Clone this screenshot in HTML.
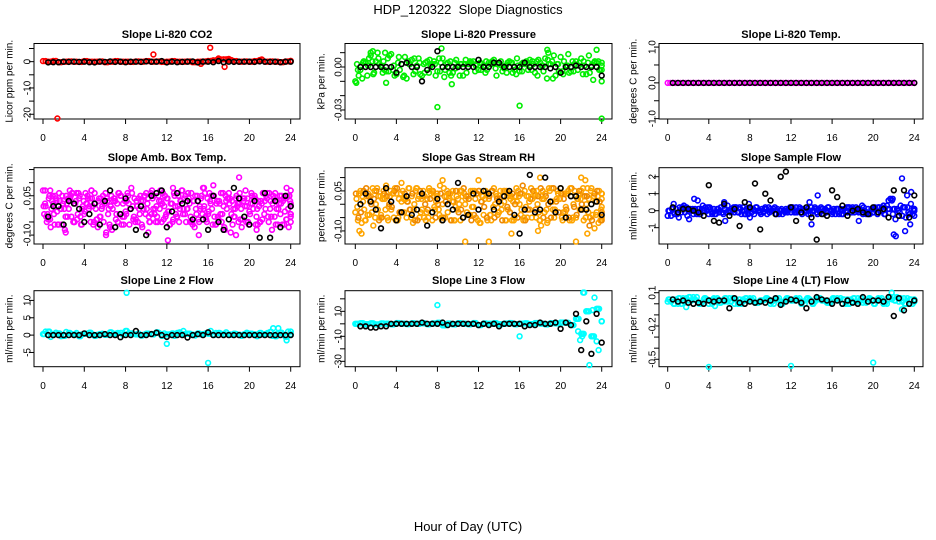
<!DOCTYPE html>
<html><head><meta charset="utf-8"><style>
html,body{margin:0;padding:0;background:#fff}
svg{display:block;font-family:"Liberation Sans",sans-serif}
</style></head><body>
<svg id="chart" width="936" height="540" viewBox="0 0 936 540" xmlns="http://www.w3.org/2000/svg">
<text x="468" y="14" font-size="13" text-anchor="middle" style="white-space:pre">HDP_120322  Slope Diagnostics</text>
<text x="468" y="531" font-size="13" text-anchor="middle">Hour of Day (UTC)</text>
</svg>
<script>
const hours = [0,0.5,1,1.5,2,2.5,3,3.5,4,4.5,5,5.5,6,6.5,7,7.5,8,8.5,9,9.5,10,10.5,11,11.5,12,12.5,13,13.5,14,14.5,15,15.5,16,16.5,17,17.5,18,18.5,19,19.5,20,20.5,21,21.5,22,22.5,23,23.5,24];
const blackHours = hours.slice(1);
const xTicks = [0,4,8,12,16,20,24];

const co2Main = [0.2,0,0.3,-0.2,0,0.1,0,-0.1,0.2,0,0,0.1,-0.2,0,0.2,0,0,-0.1,0.1,0,0.2,0,0.1,-0.1,0,0.2,0,0,0.1,-0.2,0,0.1,0.3,0.5,0.8,0.9,0.6,0.2,0,0.1,0,0.2,0.6,0,0.1,0,-0.2,0.1,0.3];
const co2OutH = [1.4,10.7,16.2,17.6,17.0,18.0,21.2,15.3];
const co2OutV = [-21.6,2.7,5.3,-2.0,1.2,1.0,0.8,-0.8];
const co2Black = [-0.3,-0.2,-0.2,0,-0.1,0,-0.1,0,-0.2,-0.3,0,-0.1,0.1,-0.1,0,-0.2,0,0,-0.1,0.1,0,0,0.2,-0.3,0,-0.2,-0.1,0,0.1,-0.3,0,0,-0.2,0.2,-0.2,0,-0.1,0,0,0,-0.1,0.1,0,-0.1,0,-0.2,0,0];

const presA = [-0.010,-0.002,0.003,0.008,0.004,0.001,-0.003,0.009,-0.005,0.002,-0.008,0.005,0.001,-0.006,0.004,0.002,-0.003,0.006,0.003,-0.004,0.001,-0.006,0.002,0.004,-0.002,0.001,0.003,0.005,0.002,-0.001,0.004,-0.002,-0.003,0.002,0.005,-0.004,0.003,0.006,0.002,-0.006,0.007,0.001,-0.003,0.004,0.006,-0.005,0.001,0.003,-0.002];
const presB = [0.002,-0.008,-0.006,0.004,0.010,-0.004,0.006,-0.002,0.003,-0.007,0.004,-0.005,0.006,0.002,-0.004,0.004,0.006,-0.007,-0.004,0.003,-0.006,0.002,0.004,-0.003,0.003,-0.004,0.002,-0.001,0.004,0.001,0.003,-0.005,0.002,0.004,-0.002,0.004,0.001,-0.008,0.004,0.002,-0.003,0.001,0.004,-0.002,-0.005,0.003,-0.009,0.004,0.001];
const presC = [-0.006,0.004,0.006,-0.004,0.002,-0.002,0.008,-0.006,-0.002,0.007,0.002,-0.003,-0.005,0.003,0.001,-0.006,0.003,0.002,-0.006,0.005,0.002,-0.004,0.003,0.002,0.002,-0.002,0.004,0.002,-0.003,0.003,-0.004,0.001,0.003,-0.002,0.002,0.005,-0.003,0.002,0.008,-0.003,0.004,-0.004,0.002,0.003,0.001,-0.004,0.004,-0.002,0.003];
const presOutH = [8.0,16.0,24.0,8.4,18.7,23.5,1.7,0.1,3.0,9.4,1.5,2.9,18.8];
const presOutV = [-0.028,-0.027,-0.036,0.013,0.012,0.012,0.011,-0.011,-0.011,-0.012,0.010,0.010,0.010];
const presBlack = [0,0,0,0,0,0,0,-0.004,0.002,0.003,0,0,-0.010,-0.002,0,0.011,0,0,0,0,0,0,0,0.005,0,0,0.003,0.003,0,0,0,0,0.003,0,0,0,0,-0.001,0,-0.004,0,0,0.001,0,0,0,0,-0.006];

const tempMain = [0,0,0,0,0,0,0,0,0,0,0,0,0,0,0,0,0,0,0,0,0,0,0,0,0,0,0,0,0,0,0,0,0,0,0,0,0,0,0,0,0,0,0,0,0,0,0,0,0];
const tempBlack = [0,0,0,0,0,0,0,0,0,0,0,0,0,0,0,0,0,0,0,0,0,0,0,0,0,0,0,0,0,0,0,0,0,0,0,0,0,0,0,0,0,0,0,0,0,0,0,0];

const ambA = [0.07,-0.04,0.02,-0.06,0.03,0.0,-0.05,0.04,-0.02,0.01,0.06,-0.03,0.02,-0.07,0.03,0.05,-0.01,0.0,-0.04,0.03,0.06,-0.02,0.01,-0.05,0.04,0.02,-0.03,0.07,0.0,-0.06,0.03,0.08,-0.02,0.05,-0.04,0.01,0.06,-0.03,0.02,0.04,-0.01,0.05,-0.05,0.03,0.0,0.06,-0.02,0.04,0.01];
const ambB = [-0.02,0.05,-0.06,0.03,-0.08,0.04,0.02,-0.03,0.06,-0.05,0.0,0.04,-0.09,0.05,-0.02,-0.06,0.03,0.06,0.01,-0.07,0.02,0.04,-0.05,0.06,-0.01,-0.04,0.05,0.0,0.04,0.03,-0.05,0.01,0.06,-0.03,0.02,-0.08,0.04,0.0,-0.04,0.07,0.02,-0.06,0.03,0.05,-0.03,0.0,0.05,-0.04,0.02];
const ambC = [0.01,-0.07,0.04,0.0,0.05,-0.03,0.06,-0.06,0.02,0.04,-0.04,0.01,0.03,0.0,-0.05,0.02,0.05,-0.04,0.04,0.0,-0.03,0.05,0.03,0.01,-0.06,0.05,0.0,-0.02,-0.05,0.05,0.0,-0.03,0.02,-0.06,0.06,0.03,-0.02,0.05,-0.07,0.01,0.05,0.0,-0.04,0.06,0.02,-0.06,0.03,0.0,-0.03];
const ambD = [-0.05,0.03,-0.01,0.05,-0.03,0.06,-0.02,0.01,0.04,-0.06,0.03,-0.05,0.0,0.04,0.06,-0.03,-0.06,0.04,-0.02,0.05,-0.05,0.0,0.07,-0.03,0.02,-0.02,0.03,-0.05,0.06,-0.02,0.05,-0.05,0.0,0.03,-0.02,0.04,-0.06,0.02,0.04,-0.05,0.0,0.03,0.06,-0.05,0.04,0.02,-0.06,0.05,-0.02];
const ambOutH = [0.2,0.7,2.6,6.1,12.1,15.1,16.5,19.0,18.7,20.7,2.2,4.7,10.2,12.6,23.6,15.6];
const ambOutV = [0.07,0.07,0.07,-0.10,-0.12,-0.10,0.09,0.12,-0.10,-0.08,-0.09,0.07,-0.09,0.08,0.08,0.08];
const ambBlack = [-0.03,0.01,0.01,-0.06,0.03,0.02,0.0,-0.05,-0.02,0.02,-0.06,0.03,0.07,-0.07,-0.02,0.04,0.0,-0.08,0.01,-0.10,0.05,0.06,0.07,-0.07,-0.01,0.06,0.02,0.03,-0.04,0.03,-0.04,-0.08,0.05,-0.05,-0.08,-0.04,0.08,0.04,-0.03,-0.06,0.03,-0.11,0.06,-0.11,0.03,-0.07,0.05,0.01];

const rhA = [-0.03,0.05,-0.06,0.03,0.0,-0.04,0.06,-0.02,0.04,0.01,-0.05,0.03,0.06,-0.02,0.02,-0.06,0.04,0.0,-0.03,0.05,0.02,-0.05,0.03,-0.01,0.05,-0.04,0.02,0.06,-0.03,0.01,0.04,-0.05,0.0,0.05,-0.02,0.03,-0.06,0.04,0.01,-0.03,0.06,-0.01,0.03,-0.05,0.05,0.0,0.06,-0.03,0.04];
const rhB = [0.02,-0.07,0.03,-0.03,0.06,0.02,-0.05,0.04,-0.06,0.05,0.01,-0.07,0.02,0.05,-0.05,0.03,-0.02,0.06,0.03,-0.06,0.0,0.04,-0.04,0.05,-0.07,0.02,-0.04,0.0,0.05,-0.06,0.02,0.03,-0.04,-0.01,0.06,-0.05,0.03,-0.02,0.06,0.02,-0.05,0.04,-0.06,0.02,-0.02,0.06,-0.04,0.03,-0.01];
const rhC = [-0.06,0.01,0.04,-0.08,0.03,0.05,-0.01,-0.05,0.02,-0.03,0.06,0.0,-0.05,0.03,0.05,-0.02,0.07,-0.05,0.04,-0.01,-0.06,0.02,0.05,-0.05,0.01,0.04,-0.06,0.03,-0.02,0.05,-0.06,0.01,0.04,-0.05,0.02,0.0,0.05,-0.06,-0.02,0.04,-0.03,0.05,0.0,0.04,-0.06,0.02,0.03,0.05,-0.05];
const rhD = [0.04,-0.02,-0.04,0.05,-0.05,0.02,0.03,0.06,-0.03,0.02,-0.02,0.05,-0.03,-0.06,0.04,0.01,-0.05,0.03,-0.06,0.03,0.05,-0.03,-0.01,0.04,0.03,-0.06,0.05,-0.04,0.03,-0.02,0.01,0.05,-0.06,0.03,0.05,-0.03,0.02,0.06,-0.05,0.02,0.04,-0.06,0.05,-0.02,0.03,-0.05,0.01,-0.06,0.04];
const rhOutH = [0.4,0.6,3.0,4.5,8.5,10.7,12.0,13.0,15.2,17.8,18.1,18.0,21.5,22.0,22.6,23.3,22.4];
const rhOutV = [-0.10,-0.11,0.07,0.08,0.09,-0.14,0.09,-0.14,-0.11,-0.10,-0.08,0.10,-0.14,0.10,-0.11,-0.09,0.09];
const rhBlack = [0.0,0.04,0.01,-0.02,-0.09,0.06,0.01,-0.06,-0.03,0.03,-0.04,-0.02,0.04,-0.08,-0.03,0.02,-0.06,0.0,-0.02,0.08,-0.05,-0.04,0.04,-0.02,0.05,0.04,-0.02,0.01,0.03,0.05,-0.04,-0.11,-0.02,0.11,-0.03,-0.02,0.1,0.01,-0.03,0.06,-0.05,0.03,0.03,-0.02,-0.02,0.0,0.01,-0.04];

const flowA = [-0.3,0.1,-0.1,0.2,0.0,-0.2,0.1,0.0,-0.2,0.1,-0.1,0.3,0.0,-0.1,0.2,-0.2,0.1,0.0,-0.1,0.2,0.1,-0.2,0.0,0.1,-0.1,0.2,-0.1,0.0,0.2,-0.1,0.1,0.0,-0.2,0.1,0.0,-0.1,0.2,0.0,-0.2,0.1,-0.1,0.2,0.3,0.6,0.1,-0.3,0.2,-0.2,0.1];
const flowB = [0.0,-0.2,0.2,-0.1,0.1,0.1,-0.2,0.2,0.1,-0.2,0.2,-0.1,0.1,0.2,-0.2,0.1,-0.1,0.2,0.1,-0.2,0.0,0.1,-0.2,-0.1,0.2,0.0,0.1,-0.2,0.0,0.1,-0.2,0.2,0.1,-0.2,0.1,0.2,-0.1,0.1,0.0,-0.2,0.2,0.0,-0.2,0.7,-0.5,0.3,-0.4,0.4,0.0];
const flowOutH = [5.5,5.6,7.9,13.8,14.0,14.6,18.6,21.9,22.0,22.2,22.8,23.1,23.3,23.7,23.6,8.0];
const flowOutV = [0.5,-0.6,0.4,0.5,-0.8,0.9,-0.6,0.7,-1.4,-1.5,1.9,-1.2,0.9,1.1,-0.8,-0.4];
const flowBlack = [0.2,-0.1,0.1,0.1,0.0,-0.1,-0.3,1.5,-0.6,-0.7,0.4,-0.3,0.1,-0.9,0.5,0.2,1.6,-1.1,1.0,0.6,-0.2,2.0,2.3,0.2,-0.6,-0.1,0.2,-0.4,-1.7,-0.2,-0.3,1.2,0.8,0.3,-0.3,0.0,0.1,-0.1,-0.2,0.2,-0.1,0.1,-0.4,1.2,-0.3,1.2,-0.4,0.9];

const l2Main = [0.3,1.0,0.2,0.5,-0.2,0.6,0.2,-0.3,0.4,0.7,-0.2,0.3,0.1,0.8,0.4,0.6,1.2,0.5,0.2,-0.1,0.4,0.3,0.8,-0.2,0.2,0.5,0.6,0.2,0.4,0.1,0.5,0.3,0.4,0.1,0.6,0.3,0.2,0.4,0.1,0.3,0.4,0.2,0.6,0.3,0.9,-0.3,0.7,-0.5,1.0];
const l2OutH = [8.1,12.0,16.0,22.3,22.8,23.6,13.6];
const l2OutV = [12.2,-2.5,-8.0,2.0,2.0,-1.5,1.2];
const l2Black = [0,0,0,0,0,0,0,0.5,0,0,0,0.3,0,0,-0.6,0,0,1.2,0,0,0.3,0.7,0,-0.5,0,0,0,-0.7,0,0.3,0,0.8,0,0,0,0,0,0,0,0,0,0,0,0,0,0,0,0];

const l3Main = [0,0.5,-0.3,0.4,-0.5,0.3,0.1,-0.4,0.6,0.2,-0.2,0.4,0.0,0.5,-0.3,0.3,0.8,-1.2,0.2,-0.4,0.5,0.1,-0.3,0.6,-1.0,0.3,0.0,0.5,-0.4,0.2,0.6,-0.3,0.1,0.4,-0.2,0.6,0.2,-0.5,0.5,0.3,1.0,0.8,-1.0,4.0,-8.0,10.0,-10.0,12.0,2.0];
const l3OutH = [8.0,16.0,22.2,22.3,23.3,22.8,21.9,22.1,23.5,23.7,22.5,21.7,23.1];
const l3OutV = [15,-10,25,25,21,-33,-13,-10,-14,-21,10,-6,11];
const l3Black = [-2,-2,-3,-3,-2,-2,0,0,0,0,0,0,1,0,0,0,1,-1,0,0,0,0,0,-1,0,-1,0,-2,0,0,0,0,-2,-1,-1,1,0,0,1,-4,1,-1,8,-21,2,-24,8,-15];

const l4Main = [0.02,0.04,0.0,0.05,0.03,0.06,0.01,0.04,0.0,0.05,0.03,0.02,0.05,0.0,0.04,0.03,0.05,0.01,0.03,0.04,0.0,0.05,0.02,0.04,0.03,0.05,0.0,0.04,0.02,0.05,0.03,0.01,0.04,0.05,0.0,0.04,0.02,0.05,0.01,0.04,0.03,0.05,0.0,0.04,0.06,0.02,0.05,0.0,0.04];
const l4OutH = [4.0,12.0,20.0,21.8,1.8,22.8,4.6];
const l4OutV = [-0.57,-0.56,-0.53,0.10,-0.03,-0.05,-0.02];
const l4Black = [0.04,0.02,0.03,0.01,0.0,0.01,0.0,0.03,0.02,0.03,0.03,-0.04,0.05,0.01,0.0,0.02,0.01,0.02,0.01,0.03,0.05,-0.01,0.02,0.04,0.03,0.01,-0.04,0.02,0.06,0.04,0.03,0.0,0.03,0.0,0.03,0.01,0.0,0.06,0.02,0.03,0.03,0.02,0.06,-0.11,0.05,-0.06,0.0,0.03];

const NS = "http://www.w3.org/2000/svg";
const svg = document.getElementById("chart");
function mk(tag, attrs, parent){const e=document.createElementNS(NS,tag);for(const k in attrs)e.setAttribute(k,attrs[k]);(parent||svg).appendChild(e);return e;}

const cols = [{l:34,r:300,x0:43,x24:290.7,lab:10,tl:28},{l:345,r:612,x0:355.3,x24:601.7,lab:322,tl:339},{l:659,r:923,x0:667.7,x24:914.3,lab:634,tl:653}];
const rows = [{t:43.5,b:119,title:38,xl:141},{t:167.7,b:244,title:161,xl:266},{t:290.7,b:366.7,title:284,xl:389}];

function makePanel(ci,ri,name,title,ylab,ymax,ymin,ticks,labels){
  const c=cols[ci], r=rows[ri];
  const g=mk("g",{});
  
  
  const sx=function(h){return c.x0+(c.x24-c.x0)*h/24;};
  const sy=function(v){return r.t+(ymax-v)/(ymax-ymin)*(r.b-r.t);};
  const t=mk("text",{x:(c.l+c.r)/2,y:r.title,"font-size":11,"font-weight":"bold","text-anchor":"middle"},g);
  t.textContent=title;
  
  
  const yl=mk("text",{x:c.lab,y:(r.t+r.b)/2,"font-size":10,"text-anchor":"middle","dominant-baseline":"central",transform:"rotate(-90 "+c.lab+" "+((r.t+r.b)/2)+")"},g);
  yl.textContent=ylab;
  
  
  const box=mk("rect",{x:c.l,y:r.t,width:c.r-c.l,height:r.b-r.t,fill:"none",stroke:"#000","stroke-width":1},g);
  
  
  xTicks.forEach(function(h){
    const x=sx(h);
    mk("line",{x1:x,y1:r.b,x2:x,y2:r.b+5,stroke:"#000"},g);
    const tx=mk("text",{x:x,y:r.xl,"font-size":10,"text-anchor":"middle"},g);
    tx.textContent=String(h);
    
    
  });
  ticks.forEach(function(v,i){
    const y=sy(v);
    mk("line",{x1:c.l-5,y1:y,x2:c.l,y2:y,stroke:"#000"},g);
    if(labels[i]){
      const ty=mk("text",{x:c.tl,y:y,"font-size":10,"text-anchor":"middle","dominant-baseline":"central",transform:"rotate(-90 "+c.tl+" "+y+")"},g);
      ty.textContent=labels[i];
      
      
    }
  });
  return {g:g,sx:sx,sy:sy};
}
function plot(p,hs,vs,color,name){
  const g=mk("g",{fill:"none",stroke:color,"stroke-width":1.6},p.g);
  
  
  for(let i=0;i<vs.length;i++){
    const dot=mk("circle",{cx:p.sx(hs[i]).toFixed(1),cy:p.sy(vs[i]).toFixed(1),r:2.4},g);
    
    
  }
}
function shift(d){return hours.map(function(h){return Math.min(24,h+d);});}
function rev(a){return a.slice().reverse();}

let p;
p=makePanel(0,0,"co2-panel","Slope Li-820 CO2","Licor ppm per min.",6.9,-21.8,[5,0,-5,-10,-15,-20],["","0","","-10","","-20"]);
plot(p,hours,co2Main,"#ff0000","co2-series");plot(p,shift(0.25),co2Main,"#ff0000","co2-series-b");plot(p,co2OutH,co2OutV,"#ff0000","co2-outliers");plot(p,blackHours,co2Black,"#000","co2-black-series");

p=makePanel(1,0,"pressure-panel","Slope Li-820 Pressure","kPa per min.",0.0164,-0.0363,[0.01,0,-0.01,-0.02,-0.03],["","0.00","","","-0.03"]);
plot(p,hours,presA,"#00ee00","pressure-series-a");plot(p,shift(0.17),presB,"#00ee00","pressure-series-b");plot(p,shift(0.33),presC,"#00ee00","pressure-series-c");plot(p,shift(0.25),rev(presA),"#00ee00","pressure-series-d");plot(p,presOutH,presOutV,"#00ee00","pressure-outliers");plot(p,blackHours,presBlack,"#000","pressure-black-series");

p=makePanel(2,0,"temp-panel","Slope Li-820 Temp.","degrees C per min.",1.1,-1.01,[1,0.5,0,-0.5,-1],["1.0","","0.0","","-1.0"]);
plot(p,hours,tempMain,"#ff00ff","temp-series");plot(p,shift(0.25),tempMain,"#ff00ff","temp-series-b");plot(p,blackHours,tempBlack,"#000","temp-black-series");

p=makePanel(0,1,"amb-temp-panel","Slope Amb. Box Temp.","degrees C per min.",0.157,-0.134,[0.15,0.10,0.05,0,-0.05,-0.10],["","","0.05","","","-0.10"]);
plot(p,hours,ambA,"#ff00ff","amb-series-a");plot(p,shift(0.12),ambB,"#ff00ff","amb-series-b");plot(p,shift(0.25),ambC,"#ff00ff","amb-series-c");plot(p,shift(0.37),ambD,"#ff00ff","amb-series-d");
plot(p,shift(0.06),rev(ambA),"#ff00ff","amb-series-e");plot(p,shift(0.19),rev(ambB),"#ff00ff","amb-series-f");plot(p,shift(0.31),rev(ambC),"#ff00ff","amb-series-g");plot(p,shift(0.44),rev(ambD),"#ff00ff","amb-series-h");
plot(p,ambOutH,ambOutV,"#ff00ff","amb-outliers");plot(p,blackHours,ambBlack,"#000","amb-black-series");

p=makePanel(1,1,"rh-panel","Slope Gas Stream RH","percent per min.",0.137,-0.149,[0.10,0.05,0,-0.05,-0.10],["","0.05","","","-0.10"]);
plot(p,hours,rhA,"#ffa500","rh-series-a");plot(p,shift(0.12),rhB,"#ffa500","rh-series-b");plot(p,shift(0.25),rhC,"#ffa500","rh-series-c");plot(p,shift(0.37),rhD,"#ffa500","rh-series-d");
plot(p,shift(0.06),rev(rhA),"#ee8800","rh-series-e");plot(p,shift(0.19),rev(rhB),"#ffa500","rh-series-f");plot(p,shift(0.31),rev(rhC),"#ee8800","rh-series-g");plot(p,shift(0.44),rev(rhD),"#ffa500","rh-series-h");
plot(p,rhOutH,rhOutV,"#ffa500","rh-outliers");plot(p,blackHours,rhBlack,"#000","rh-black-series");

p=makePanel(2,1,"sample-flow-panel","Slope Sample Flow","ml/min per min.",2.53,-1.96,[2,1,0,-1],["2","1","0","-1"]);
plot(p,hours,flowA,"#0000ff","flow-series-a");plot(p,shift(0.17),flowB,"#0000ff","flow-series-b");plot(p,shift(0.33),flowA,"#0000ff","flow-series-c");plot(p,shift(0.08),rev(flowB),"#0000ff","flow-series-d");plot(p,shift(0.42),rev(flowA),"#0000ff","flow-series-e");plot(p,flowOutH,flowOutV,"#0000ff","flow-outliers");plot(p,blackHours,flowBlack,"#000","flow-black-series");

p=makePanel(0,2,"line2-panel","Slope Line 2 Flow","ml/min per min.",12.8,-9.1,[10,5,0,-5],["10","5","0","-5"]);
plot(p,hours,l2Main,"#00ffff","line2-series");plot(p,shift(0.25),rev(l2Main),"#00ffff","line2-series-b");plot(p,shift(0.12),l2Main,"#00ffff","line2-series-c");plot(p,l2OutH,l2OutV,"#00ffff","line2-outliers");plot(p,blackHours,l2Black,"#000","line2-black-series");

p=makePanel(1,2,"line3-panel","Slope Line 3 Flow","ml/min per min.",26.5,-34.3,[20,10,0,-10,-20,-30],["","10","","-10","","-30"]);
plot(p,hours,l3Main,"#00ffff","line3-series");plot(p,shift(0.25),l3Main,"#00ffff","line3-series-b");plot(p,shift(0.12),l3Main,"#00ffff","line3-series-c");plot(p,l3OutH,l3OutV,"#00ffff","line3-outliers");plot(p,blackHours,l3Black,"#000","line3-black-series");

p=makePanel(2,2,"line4-panel","Slope Line 4 (LT) Flow","ml/min per min.",0.118,-0.567,[0.1,0,-0.1,-0.2,-0.3,-0.4,-0.5],["0.1","","","-0.2","","","-0.5"]);
plot(p,hours,l4Main,"#00ffff","line4-series");plot(p,shift(0.17),rev(l4Main),"#00ffff","line4-series-b");plot(p,shift(0.33),l4Main,"#00ffff","line4-series-c");plot(p,shift(0.08),rev(l4Main),"#00ffff","line4-series-d");plot(p,l4OutH,l4OutV,"#00ffff","line4-outliers");plot(p,blackHours,l4Black,"#000","line4-black-series");
</script>
</body></html>
